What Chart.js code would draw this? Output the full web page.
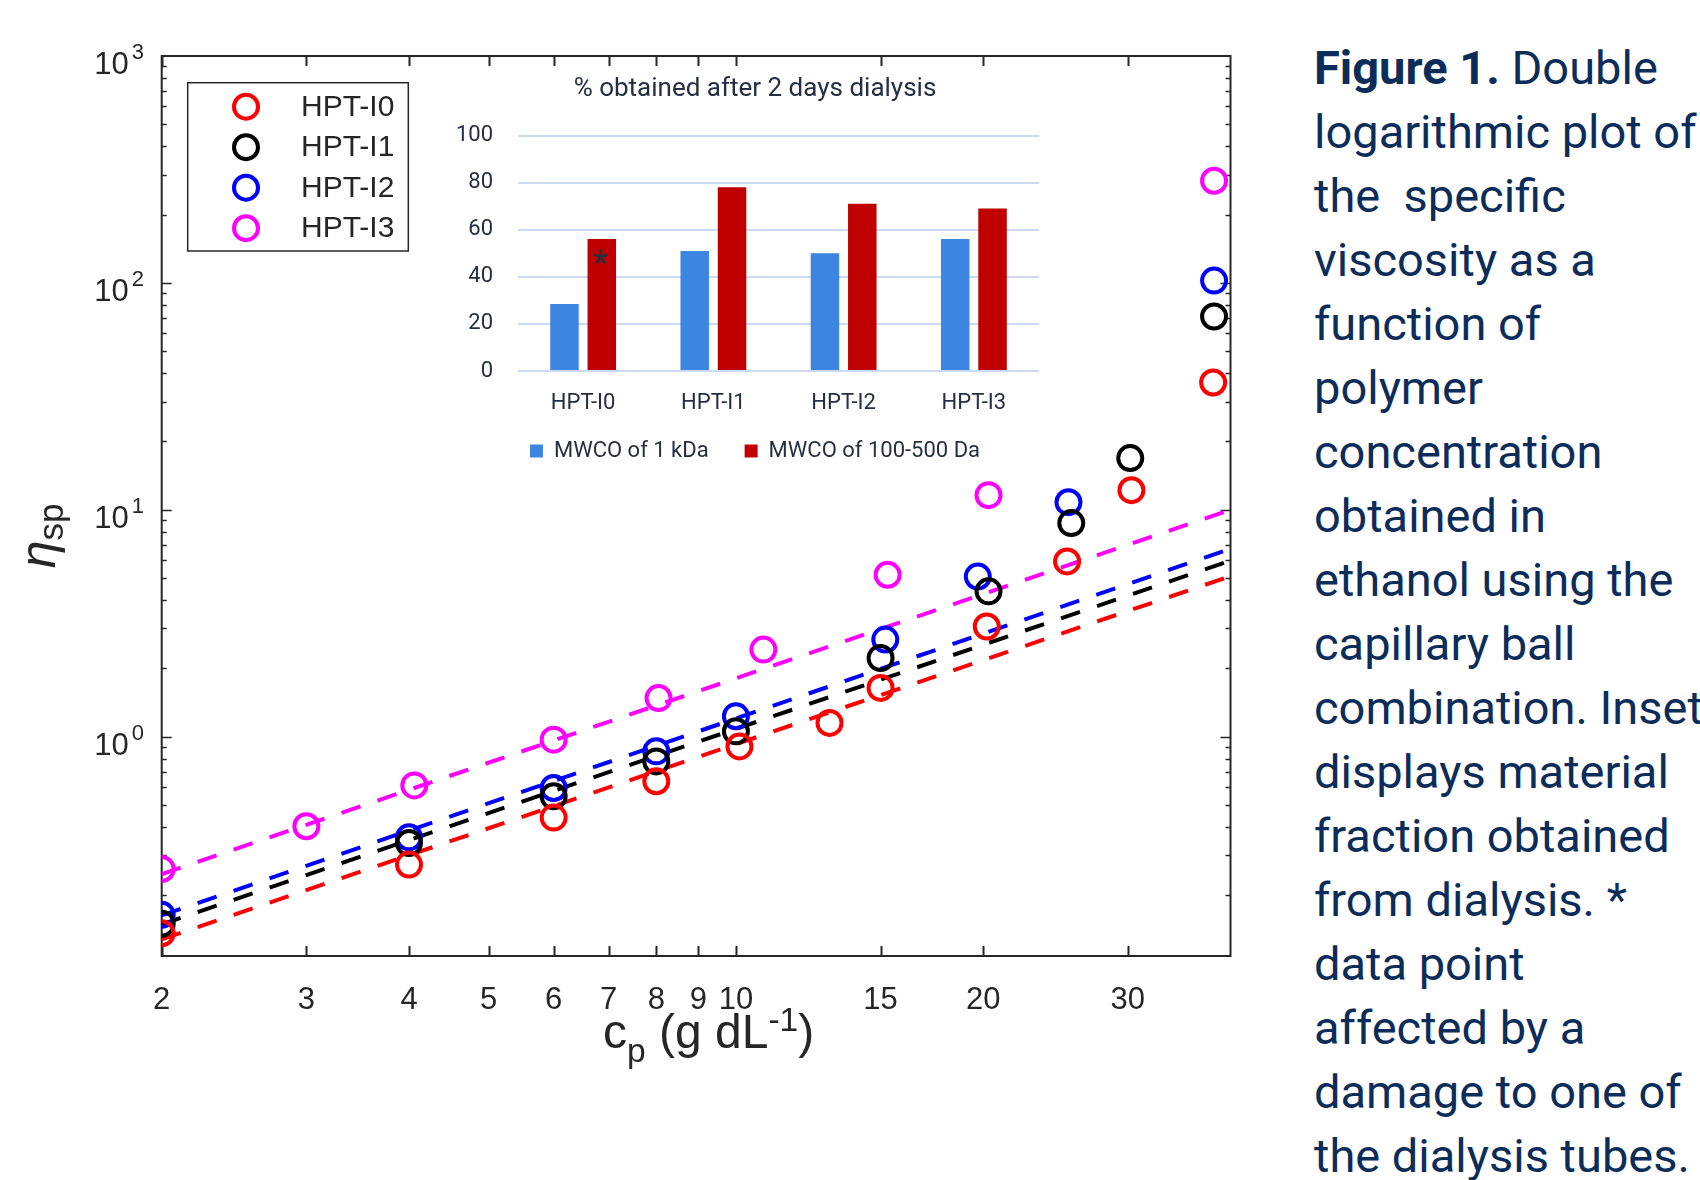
<!DOCTYPE html>
<html>
<head>
<meta charset="utf-8">
<script src="https://cdn.jsdelivr.net/npm/chart.js@4.4.1/dist/chart.umd.min.js"></script>
<style>
  html, body { margin: 0; padding: 0; background: #fff; width: 1700px; height: 1180px; overflow: hidden; }
  #main { position: absolute; left: 0; top: 0; }
  #inset { position: absolute; left: 436px; top: 60px; }
  .lab { position: absolute; font-family: 'Liberation Sans', Arial, sans-serif; color: #262626; white-space: nowrap; line-height: 1; }
  .lab .sb { position: relative; font-size: 0.7em; }
  .lab .sp { position: relative; top: -0.5em; font-size: 0.7em; }
  #caption { position: absolute; left: 1314px; top: 35.5px; font-family: Roboto, sans-serif; font-size: 47px;
             line-height: 64px; color: #0c2d5a; white-space: nowrap; }
</style>
</head>
<body>
<canvas id="main" width="1290" height="1180"></canvas>
<canvas id="inset" width="640" height="412"></canvas>
<div class="lab" style="left:603px; top:1008px; font-size:48px;">c<span class="sb" style="top:0.42em">p</span> (g dL<span class="sp">-1</span>)</div>
<div class="lab" style="left:-22px; top:506px; width:120px; height:60px; line-height:60px; text-align:center; font-size:50px; transform:rotate(-90deg);"><i>&eta;</i><span class="sb" style="top:0.22em">sp</span></div>
<div id="caption"><b>Figure 1.</b> Double<br>logarithmic plot of<br>the&nbsp; specific<br>viscosity as a<br>function of<br>polymer<br>concentration<br>obtained in<br>ethanol using the<br>capillary ball<br>combination. Inset<br>displays material<br>fraction obtained<br>from dialysis. *<br>data point<br>affected by a<br>damage to one of<br>the dialysis tubes.</div>

<script>
// ---- main plot: specific viscosity vs concentration (log-log) ----
const seriesNames = ['HPT-I0', 'HPT-I1', 'HPT-I2', 'HPT-I3'];
const seriesColors = ['#ff0000', '#000000', '#0000ff', '#ff00ff'];

const i0X = [2, 4, 6, 8, 10.1, 13, 15, 20.2, 25.3, 30.3, 38.1];
const i0Y = [0.136, 0.273, 0.44, 0.636, 0.906, 1.15, 1.64, 3.06, 5.92, 12.2, 36.4];
const i1X = [2, 4, 6, 8, 10, 15, 20.3, 25.6, 30.2, 38.2];
const i1Y = [0.15, 0.34, 0.546, 0.778, 1.056, 2.22, 4.37, 8.74, 16.9, 71.1];
const i2X = [2, 4, 6, 8, 10, 15.2, 19.7, 25.4, 38.2];
const i2Y = [0.164, 0.36, 0.594, 0.862, 1.23, 2.68, 5.08, 10.8, 102.4];
const i3X = [2, 3, 4.06, 6, 8.05, 10.8, 15.3, 20.3, 38.2];
const i3Y = [0.261, 0.403, 0.61, 0.97, 1.48, 2.42, 5.17, 11.6, 282];

// power-law fits, dashed, from x = 2 to 40
const fitX = [2, 40];
const fitI0 = [0.128, 5.1];
const fitI1 = [0.149, 5.97];
const fitI2 = [0.163, 6.73];
const fitI3 = [0.248, 10.0];

const xTickVals = [2, 3, 4, 5, 6, 7, 8, 9, 10, 15, 20, 30];
const yTickVals = [1, 10, 100, 1000];
const yTickExp = ['0', '1', '2', '3'];

// ---- inset bar chart ----
const insetCats = ['HPT-I0', 'HPT-I1', 'HPT-I2', 'HPT-I3'];
const mwco1kDa = [28.5, 51, 50, 56];
const mwco100to500 = [56, 78, 71, 69];
const insetTicks = [0, 20, 40, 60, 80, 100];

const axisInk = '#262626';
const insetInk = '#243042';
const sansFont = '"Liberation Sans", Arial, sans-serif';

const pts = (xs, ys) => xs.map((x, i) => ({ x: x, y: ys[i] }));

const scatterSets = [[i0X, i0Y], [i1X, i1Y], [i2X, i2Y], [i3X, i3Y]].map((s, i) => ({
    label: seriesNames[i],
    data: pts(s[0], s[1]),
    showLine: false,
    pointStyle: 'circle',
    pointRadius: 12,
    pointBorderWidth: 4,
    pointBackgroundColor: 'rgba(0,0,0,0)',
    pointBorderColor: seriesColors[i],
    borderColor: seriesColors[i]
}));

const fitSets = [fitI0, fitI1, fitI2, fitI3].map((f, i) => ({
    type: 'line',
    label: seriesNames[i] + ' fit',
    data: pts(fitX, f),
    borderColor: seriesColors[i],
    borderWidth: 4,
    borderDash: [20, 18],
    pointRadius: 0,
    fill: false
}));

// box, inward ticks on all four sides, y labels as 10^n, legend
const matlabAxes = {
    id: 'matlabAxes',
    beforeDatasetsDraw(chart) {
        const { ctx, chartArea: a, scales: { x, y } } = chart;
        ctx.save();
        ctx.strokeStyle = axisInk;
        ctx.lineWidth = 2;
        ctx.beginPath();
        xTickVals.forEach(v => {
            const px = Math.round(x.getPixelForValue(v)) + 0.5;
            ctx.moveTo(px, a.bottom); ctx.lineTo(px, a.bottom - 10);
            ctx.moveTo(px, a.top); ctx.lineTo(px, a.top + 10);
        });
        ctx.stroke();

        ctx.lineWidth = 1.5;
        ctx.beginPath();
        for (let d = 0.1; d < 1000; d *= 10) {
            for (let k = 1; k <= 9; k++) {
                const v = d * k;
                if (v < y.min || v > y.max) continue;
                const len = k === 1 ? 10 : 5;
                const py = Math.round(y.getPixelForValue(v)) + 0.5;
                ctx.moveTo(a.left, py); ctx.lineTo(a.left + len, py);
                ctx.moveTo(a.right, py); ctx.lineTo(a.right - len, py);
            }
        }
        ctx.stroke();

        ctx.lineWidth = 2;
        ctx.strokeRect(a.left, a.top, a.right - a.left, a.bottom - a.top);

        ctx.fillStyle = axisInk;
        ctx.textAlign = 'right';
        ctx.textBaseline = 'alphabetic';
        yTickVals.forEach((v, i) => {
            const py = y.getPixelForValue(v);
            ctx.font = '22px ' + sansFont;
            const ew = ctx.measureText(yTickExp[i]).width;
            ctx.fillText(yTickExp[i], 144, py + 3);
            ctx.font = '31px ' + sansFont;
            ctx.fillText('10', 144 - ew - 3, py + 18);
        });
        ctx.restore();
    },
    afterDraw(chart) {
        const ctx = chart.ctx;
        ctx.save();
        ctx.fillStyle = '#fff';
        ctx.fillRect(187.7, 82.7, 220.6, 168.3);
        ctx.strokeStyle = axisInk;
        ctx.lineWidth = 1.5;
        ctx.strokeRect(187.7, 82.7, 220.6, 168.3);
        ctx.font = '30px ' + sansFont;
        ctx.textAlign = 'left';
        ctx.textBaseline = 'middle';
        seriesNames.forEach((name, i) => {
            const cy = 106.7 + i * 40.5;
            ctx.beginPath();
            ctx.arc(246, cy, 12, 0, Math.PI * 2);
            ctx.strokeStyle = seriesColors[i];
            ctx.lineWidth = 4;
            ctx.stroke();
            ctx.fillStyle = axisInk;
            ctx.fillText(name, 301, cy + 1);
        });
        ctx.restore();
    }
};

new Chart(document.getElementById('main'), {
    type: 'scatter',
    data: { datasets: scatterSets.concat(fitSets) },
    options: {
        responsive: false,
        animation: false,
        devicePixelRatio: 1,
        layout: { padding: { left: 0, top: 56, right: 59.5, bottom: 164 } },
        plugins: { legend: { display: false }, tooltip: { enabled: false } },
        scales: {
            x: {
                type: 'logarithmic',
                min: 2,
                max: 40,
                afterBuildTicks: s => { s.ticks = xTickVals.map(v => ({ value: v })); },
                afterFit: s => { s.height = 60; },
                grid: { display: false },
                border: { display: false },
                ticks: {
                    autoSkip: false,
                    maxRotation: 0,
                    padding: 17.4,
                    color: axisInk,
                    font: { family: sansFont, size: 31 },
                    callback: v => String(v)
                }
            },
            y: {
                type: 'logarithmic',
                min: 0.108,
                max: 1000,
                afterFit: s => { s.width = 161.7; },
                grid: { display: false },
                border: { display: false },
                ticks: { display: false }
            }
        }
    },
    plugins: [matlabAxes]
});

// asterisk on the damaged HPT-I0 bar
const asterisk = {
    id: 'asterisk',
    afterDatasetsDraw(chart) {
        const bar = chart.getDatasetMeta(1).data[0];
        const ctx = chart.ctx;
        ctx.save();
        ctx.fillStyle = insetInk;
        ctx.font = '36px Roboto, sans-serif';
        ctx.textAlign = 'center';
        ctx.textBaseline = 'alphabetic';
        ctx.fillText('*', bar.x - 1, bar.y + 35.5);
        ctx.restore();
    }
};

const insetFont = { family: 'Roboto, sans-serif', size: 22 };

new Chart(document.getElementById('inset'), {
    type: 'bar',
    data: {
        labels: insetCats,
        datasets: [
            { label: 'MWCO of 1 kDa', data: mwco1kDa, backgroundColor: '#3c85e0', borderWidth: 0,
              categoryPercentage: 0.573, barPercentage: 0.764 },
            { label: 'MWCO of 100-500 Da', data: mwco100to500, backgroundColor: '#c00000', borderWidth: 0,
              categoryPercentage: 0.573, barPercentage: 0.764 }
        ]
    },
    options: {
        responsive: false,
        animation: false,
        devicePixelRatio: 1,
        layout: { padding: { left: 0, right: 2, top: 0, bottom: 0 } },
        plugins: {
            title: {
                display: true,
                text: '% obtained after 2 days dialysis',
                color: insetInk,
                font: { family: 'Roboto, sans-serif', size: 26, weight: 'normal' },
                padding: { top: 13.4, bottom: 30.9 }
            },
            legend: {
                position: 'bottom',
                labels: { boxWidth: 13, boxHeight: 13, padding: 36, color: insetInk, font: insetFont }
            },
            tooltip: { enabled: false }
        },
        scales: {
            x: {
                grid: { display: false },
                border: { display: false },
                afterFit: s => { s.height = 33; },
                // mirror keeps the labels unclipped; negative padding puts them below the axis
                ticks: { color: insetInk, font: insetFont, mirror: true, padding: -45.2 }
            },
            y: {
                min: 0,
                max: 100,
                afterBuildTicks: s => { s.ticks = insetTicks.map(v => ({ value: v })); },
                afterFit: s => { s.width = 82; },
                grid: { color: '#c9daf2', lineWidth: 2, drawTicks: false },
                border: { display: false },
                ticks: { color: insetInk, font: insetFont, padding: 25 }
            },
            yRight: {
                type: 'linear',
                position: 'right',
                grid: { display: false },
                border: { display: false },
                ticks: { display: false },
                afterFit: s => { s.width = 35; }
            }
        }
    },
    plugins: [asterisk]
});
</script>
</body>
</html>
